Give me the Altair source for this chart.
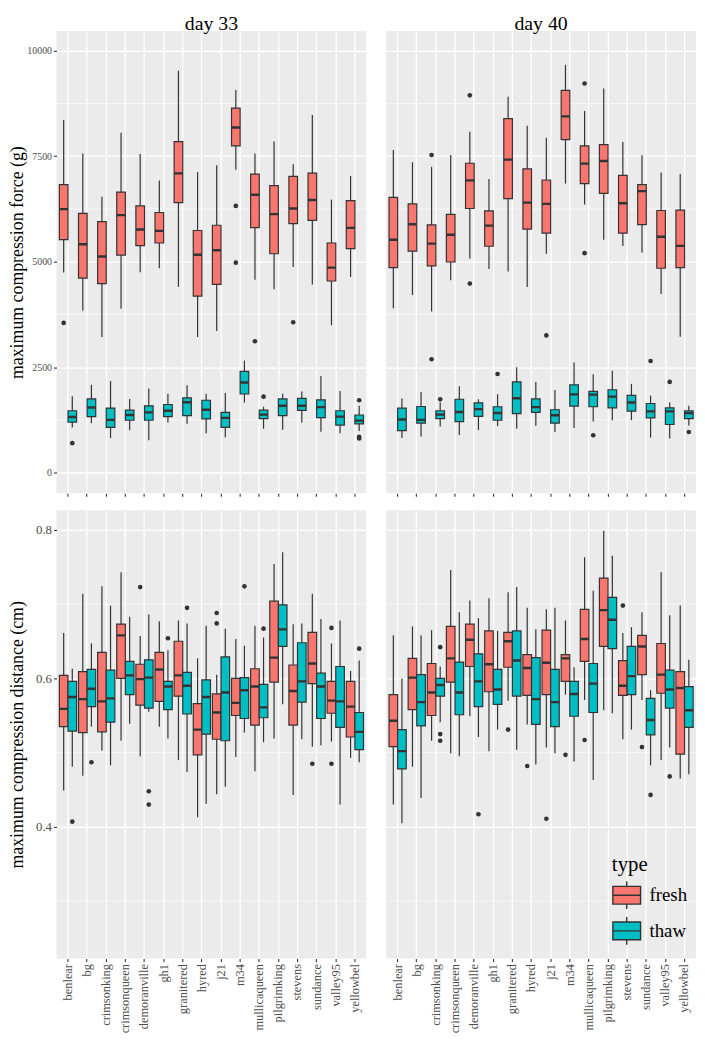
import altair as alt
import pandas as pd

FONT = "Liberation Serif"

cultivars = ["benlear", "bg", "crimsonking", "crimsonqueen", "demoranville", "gh1",
             "granitered", "hyred", "j21", "m34", "mullicaqueen", "pilgrimking",
             "stevens", "sundance", "valley95", "yellowbel"]
types = ["fresh", "thaw"]
type_colors = ["#F8766D", "#00BFC4"]
days = ["day 33", "day 40"]

# each row: (lower whisker, Q1, median, Q3, upper whisker), one per cultivar
force_d33_fresh = [
    (4743, 5521, 6244, 6827, 8359), (3835, 4612, 5412, 6143, 7566),
    (3214, 4480, 5124, 5949, 6540), (3882, 5156, 6104, 6649, 8056),
    (4751, 5381, 5762, 6322, 7551), (4844, 5443, 5731, 6166, 6921),
    (4402, 6400, 7092, 7846, 9526), (3214, 4185, 5163, 5739, 7123),
    (3354, 4464, 5272, 5863, 7286), (7177, 7745, 8180, 8639, 9067),
    (4573, 5809, 6586, 7076, 7566), (4348, 5187, 6128, 6804, 7846),
    (4876, 5902, 6260, 7022, 7310), (4457, 5980, 6462, 7100, 8476),
    (3494, 4542, 4860, 5443, 6470), (4635, 5311, 5801, 6446, 7030)]
force_d33_thaw = [
    (1071, 1196, 1320, 1467, 1809), (1172, 1328, 1545, 1747, 2081),
    (823, 1071, 1250, 1530, 2174), (1002, 1242, 1366, 1483, 1747),
    (769, 1242, 1429, 1584, 1995), (1188, 1328, 1467, 1615, 1871),
    (1157, 1351, 1669, 1770, 2073), (932, 1273, 1491, 1716, 1871),
    (839, 1071, 1297, 1429, 1887), (1661, 1863, 2135, 2399, 2655),
    (1040, 1281, 1374, 1483, 1561), (1017, 1351, 1584, 1747, 1871),
    (1188, 1475, 1584, 1762, 1925), (970, 1304, 1553, 1724, 2290),
    (932, 1126, 1328, 1467, 1933), (986, 1157, 1234, 1366, 1584)]
force_d33_outliers = [
    ("benlear", "fresh", 3548), ("m34", "fresh", 6322), ("m34", "fresh", 4977),
    ("mullicaqueen", "fresh", 3113), ("stevens", "fresh", 3564),
    ("benlear", "thaw", 699), ("mullicaqueen", "thaw", 1801),
    ("yellowbel", "thaw", 1716), ("yellowbel", "thaw", 850), ("yellowbel", "thaw", 810)]

force_d40_fresh = [
    (3898, 4860, 5521, 6524, 7644), (4208, 5249, 5887, 6369, 7356),
    (3820, 4899, 5428, 5871, 7247), (4557, 4992, 5638, 6120, 7527),
    (5078, 6260, 6928, 7333, 8079), (4829, 5366, 5855, 6205, 6960),
    (4767, 6493, 7418, 8390, 8911), (4402, 5770, 6400, 7201, 8219),
    (5187, 5677, 6369, 6936, 7939), (6851, 7893, 8445, 9059, 9666),
    (6353, 6851, 7325, 7745, 8569), (5521, 6617, 7387, 7776, 9106),
    (5373, 5677, 6384, 7045, 7838), (5218, 5879, 6672, 6827, 7520),
    (4231, 4844, 5591, 6213, 7115), (3222, 4860, 5373, 6221, 7076)]
force_d40_thaw = [
    (823, 994, 1258, 1530, 1755), (854, 1172, 1250, 1568, 1910),
    (1095, 1281, 1374, 1467, 1669), (893, 1211, 1436, 1739, 2050),
    (1009, 1335, 1506, 1654, 1739), (1102, 1242, 1413, 1561, 1856),
    (1040, 1398, 1762, 2151, 2500), (1110, 1429, 1553, 1747, 2151),
    (963, 1172, 1359, 1491, 1957), (1056, 1576, 1856, 2081, 2609),
    (1211, 1561, 1848, 1925, 2329), (1242, 1537, 1801, 1964, 2415),
    (1242, 1460, 1661, 1832, 2104), (831, 1297, 1452, 1638, 1825),
    (807, 1141, 1452, 1537, 1661), (1118, 1281, 1413, 1467, 1584)]
force_d40_outliers = [
    ("crimsonking", "fresh", 7527), ("crimsonking", "fresh", 2686),
    ("demoranville", "fresh", 8942), ("demoranville", "fresh", 4480),
    ("j21", "fresh", 3253), ("mullicaqueen", "fresh", 9222), ("mullicaqueen", "fresh", 5202),
    ("crimsonking", "thaw", 1739), ("gh1", "thaw", 2337), ("mullicaqueen", "thaw", 885),
    ("sundance", "thaw", 2647), ("valley95", "thaw", 2151), ("yellowbel", "thaw", 963)]

dist_d33_fresh = [
    (0.449, 0.535, 0.559, 0.604, 0.661), (0.469, 0.527, 0.572, 0.609, 0.714),
    (0.503, 0.528, 0.569, 0.635, 0.724), (0.516, 0.600, 0.658, 0.673, 0.743),
    (0.495, 0.564, 0.599, 0.619, 0.657), (0.535, 0.569, 0.612, 0.635, 0.677),
    (0.490, 0.576, 0.604, 0.650, 0.678), (0.413, 0.497, 0.531, 0.566, 0.627),
    (0.444, 0.518, 0.554, 0.579, 0.605), (0.494, 0.550, 0.567, 0.600, 0.653),
    (0.475, 0.537, 0.589, 0.613, 0.671), (0.519, 0.595, 0.628, 0.704, 0.754),
    (0.443, 0.537, 0.583, 0.618, 0.673), (0.508, 0.593, 0.620, 0.662, 0.714),
    (0.515, 0.553, 0.570, 0.596, 0.647), (0.493, 0.521, 0.562, 0.596, 0.610)]
dist_d33_thaw = [
    (0.481, 0.529, 0.575, 0.596, 0.613), (0.535, 0.562, 0.586, 0.612, 0.647),
    (0.483, 0.541, 0.573, 0.611, 0.698), (0.539, 0.578, 0.604, 0.623, 0.683),
    (0.555, 0.560, 0.601, 0.625, 0.686), (0.519, 0.558, 0.589, 0.596, 0.638),
    (0.474, 0.552, 0.590, 0.608, 0.674), (0.431, 0.525, 0.575, 0.598, 0.671),
    (0.454, 0.516, 0.581, 0.629, 0.667), (0.527, 0.546, 0.584, 0.601, 0.644),
    (0.514, 0.547, 0.561, 0.592, 0.655), (0.565, 0.643, 0.666, 0.699, 0.770),
    (0.518, 0.568, 0.596, 0.648, 0.674), (0.510, 0.546, 0.589, 0.607, 0.680),
    (0.430, 0.534, 0.569, 0.616, 0.678), (0.487, 0.504, 0.528, 0.554, 0.624)]
dist_d33_outliers = [
    ("demoranville", "fresh", 0.723), ("j21", "fresh", 0.688), ("j21", "fresh", 0.674),
    ("sundance", "fresh", 0.485), ("valley95", "fresh", 0.668), ("valley95", "fresh", 0.485),
    ("benlear", "thaw", 0.407), ("bg", "thaw", 0.487), ("demoranville", "thaw", 0.448),
    ("demoranville", "thaw", 0.430), ("gh1", "thaw", 0.654), ("granitered", "thaw", 0.695),
    ("m34", "thaw", 0.724), ("mullicaqueen", "thaw", 0.667), ("yellowbel", "thaw", 0.640)]

dist_d40_fresh = [
    (0.430, 0.508, 0.543, 0.578, 0.658), (0.481, 0.558, 0.601, 0.627, 0.670),
    (0.516, 0.550, 0.581, 0.620, 0.665), (0.499, 0.595, 0.627, 0.670, 0.746),
    (0.549, 0.616, 0.652, 0.673, 0.705), (0.502, 0.582, 0.619, 0.664, 0.708),
    (0.570, 0.615, 0.650, 0.662, 0.716), (0.538, 0.577, 0.614, 0.632, 0.695),
    (0.507, 0.578, 0.621, 0.665, 0.693), (0.578, 0.596, 0.627, 0.632, 0.678),
    (0.571, 0.623, 0.653, 0.693, 0.763), (0.557, 0.643, 0.692, 0.735, 0.799),
    (0.518, 0.577, 0.590, 0.624, 0.661), (0.571, 0.605, 0.643, 0.658, 0.689),
    (0.490, 0.580, 0.605, 0.647, 0.743), (0.465, 0.498, 0.587, 0.609, 0.698)]
dist_d40_thaw = [
    (0.405, 0.478, 0.502, 0.531, 0.600), (0.439, 0.536, 0.568, 0.605, 0.658),
    (0.541, 0.576, 0.591, 0.600, 0.616), (0.495, 0.551, 0.581, 0.622, 0.689),
    (0.521, 0.562, 0.596, 0.633, 0.681), (0.531, 0.565, 0.585, 0.612, 0.664),
    (0.504, 0.576, 0.624, 0.664, 0.723), (0.484, 0.538, 0.572, 0.628, 0.666),
    (0.499, 0.535, 0.568, 0.612, 0.695), (0.488, 0.549, 0.579, 0.596, 0.615),
    (0.463, 0.554, 0.593, 0.620, 0.718), (0.553, 0.640, 0.679, 0.709, 0.765),
    (0.531, 0.578, 0.603, 0.643, 0.669), (0.483, 0.524, 0.544, 0.573, 0.584),
    (0.507, 0.560, 0.585, 0.611, 0.685), (0.471, 0.534, 0.557, 0.589, 0.625)]
dist_d40_outliers = [
    ("granitered", "fresh", 0.531), ("hyred", "fresh", 0.482), ("j21", "fresh", 0.411),
    ("m34", "fresh", 0.497), ("mullicaqueen", "fresh", 0.517), ("stevens", "fresh", 0.698),
    ("sundance", "fresh", 0.5075),
    ("crimsonking", "thaw", 0.642), ("crimsonking", "thaw", 0.525), ("crimsonking", "thaw", 0.516),
    ("demoranville", "thaw", 0.417), ("sundance", "thaw", 0.443), ("valley95", "thaw", 0.468)]

force_breaks = [0, 2500, 5000, 7500, 10000]
force_minor = [1250, 3750, 6250, 8750]
force_domain = [-490, 10467]
dist_breaks = [0.4, 0.6, 0.8]
dist_minor = [0.3, 0.5, 0.7]
dist_domain = [0.2226, 0.8266]

W = 313
H_TOP = 467
H_BOT = 453
BOX_W = W / 16.2 * 0.45
DARK = "#333333"

LEGEND_PATH = "M-1,-0.64H1V0.64H-1Z M-1,0H1 M0,-0.64V-1 M0,0.64V1"
legend = alt.Legend(
    title="type", orient="none", legendX=561, legendY=832,
    symbolType=LEGEND_PATH, symbolSize=784, symbolStrokeColor=DARK,
    symbolStrokeWidth=1.4, titleFont=FONT, titleFontSize=21, titleFontWeight="normal",
    titleColor="black", labelFont=FONT, labelFontSize=19, labelColor="black",
    labelOffset=8, rowPadding=2, titlePadding=5)


def panel(fresh, thaw, outs, ydom, breaks, minor, height, first_col, top_row,
          title=None, ytitle=None, label_size=13):
    rows = []
    for t, stats in (("fresh", fresh), ("thaw", thaw)):
        for c, (lo, q1, md, q3, hi) in zip(cultivars, stats):
            rows.append(dict(cultivar=c, type=t, lo=lo, q1=q1, med=md, q3=q3, hi=hi))
    boxes = pd.DataFrame(rows)
    outdf = pd.DataFrame(outs, columns=["cultivar", "type", "value"])
    minordf = pd.DataFrame({"v": minor})

    xsc = alt.Scale(domain=cultivars, paddingInner=0, paddingOuter=0.1)
    osc = alt.Scale(domain=types, paddingInner=0, paddingOuter=0.1111)
    ysc = alt.Scale(domain=ydom, nice=False, zero=False)
    csc = alt.Scale(domain=types, range=type_colors)

    common_x = dict(tickColor=DARK, tickSize=3, tickWidth=1.1, domain=False,
                    grid=True, gridColor="white", gridWidth=1.3, bandPosition=0.5,
                    title=None)
    if top_row:
        xaxis = alt.Axis(labels=False, ticks=True, **common_x)
    else:
        xaxis = alt.Axis(labels=True, ticks=True, labelAngle=270, labelAlign="right",
                         labelBaseline="middle", labelFont=FONT, labelFontSize=12.5,
                         labelColor="#4D4D4D", labelPadding=2, **common_x)
    if first_col:
        yaxis = alt.Axis(values=breaks, title=ytitle, titleFont=FONT, titleFontSize=18,
                         titleFontWeight="normal", titleColor="black",
                         titlePadding=0 if top_row else 9, format="d" if top_row else ".1f",
                         labelFont=FONT, labelFontSize=label_size, labelColor="#4D4D4D",
                         labelPadding=2, ticks=True, tickSize=3, tickColor=DARK,
                         tickWidth=1.1, domain=False, grid=True, gridColor="white",
                         gridWidth=1.3)
    else:
        yaxis = alt.Axis(values=breaks, title=None, labels=False, ticks=False,
                         domain=False, grid=True, gridColor="white", gridWidth=1.3)

    x = alt.X("cultivar:N", scale=xsc, axis=xaxis, sort=cultivars)
    xo = alt.XOffset("type:N", scale=osc, sort=types)

    minor_layer = alt.Chart(minordf).mark_rule(color="white", strokeWidth=0.6).encode(
        y=alt.Y("v:Q", scale=ysc, axis=yaxis))
    base = alt.Chart(boxes)
    whisk = base.mark_rule(color=DARK, strokeWidth=1.2).encode(
        x=x, xOffset=xo, y=alt.Y("lo:Q", scale=ysc, axis=yaxis), y2="hi:Q")
    box = base.mark_bar(stroke=DARK, strokeWidth=1.2, width=BOX_W).encode(
        x=x, xOffset=xo, y=alt.Y("q1:Q", scale=ysc, axis=yaxis), y2="q3:Q",
        fill=alt.Fill("type:N", scale=csc, legend=legend))
    med = base.mark_bar(color=DARK, stroke=DARK, strokeWidth=2.4, width=BOX_W).encode(
        x=x, xOffset=xo, y=alt.Y("med:Q", scale=ysc, axis=yaxis), y2="med:Q")
    pts = alt.Chart(outdf).mark_circle(size=22, color=DARK, opacity=1).encode(
        x=x, xOffset=xo, y=alt.Y("value:Q", scale=ysc, axis=yaxis))

    layer = alt.layer(minor_layer, whisk, box, med, pts).properties(width=W, height=height)
    if title:
        layer = layer.properties(title=alt.TitleParams(
            text=title, font=FONT, fontSize=20, fontWeight="normal", color="black",
            anchor="middle", offset=-3))
    return layer


p11 = panel(force_d33_fresh, force_d33_thaw, force_d33_outliers, force_domain, force_breaks,
            force_minor, H_TOP, True, True, title=days[0],
            ytitle="maximum compression force (g)", label_size=10)
p12 = panel(force_d40_fresh, force_d40_thaw, force_d40_outliers, force_domain, force_breaks,
            force_minor, H_TOP, False, True, title=days[1])
p21 = panel(dist_d33_fresh, dist_d33_thaw, dist_d33_outliers, dist_domain, dist_breaks,
            dist_minor, H_BOT, True, False, ytitle="maximum compression distance (cm)",
            label_size=13)
p22 = panel(dist_d40_fresh, dist_d40_thaw, dist_d40_outliers, dist_domain, dist_breaks,
            dist_minor, H_BOT, False, False)

chart = alt.concat(p11, p12, p21, p22, columns=2, bounds="flush",
                   spacing=alt.RowColnumber(row=17, column=20)).resolve_scale(
    x="independent", y="independent", color="shared", fill="shared").properties(
    padding={"left": 0, "top": 1, "right": 0, "bottom": 0}).configure(
    font=FONT).configure_view(fill="#EBEBEB", stroke=None)

chart.save("out.html", embed_options={"renderer": "svg", "actions": False})
